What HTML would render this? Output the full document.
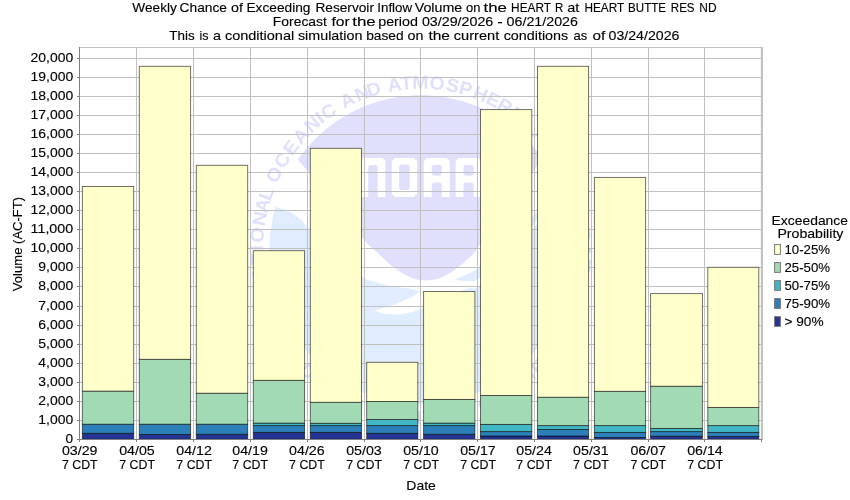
<!DOCTYPE html>
<html><head><meta charset="utf-8"><title>Chart</title>
<style>html,body{margin:0;padding:0;background:#fff;}svg{display:block;will-change:transform;}text{font-family:"Liberation Sans",sans-serif;fill:#000;stroke:#000;stroke-width:0.12px;}</style>
</head><body>
<svg width="850" height="500" viewBox="0 0 850 500">
<rect x="0" y="0" width="850" height="500" fill="#ffffff"/>
<text x="132.3" y="11.9" font-size="12.4" textLength="44.6" lengthAdjust="spacingAndGlyphs">Weekly</text>
<text x="179.6" y="11.9" font-size="12.4" textLength="47.4" lengthAdjust="spacingAndGlyphs">Chance</text>
<text x="231.1" y="11.9" font-size="12.4" textLength="11.9" lengthAdjust="spacingAndGlyphs">of</text>
<text x="246.4" y="11.9" font-size="12.4" textLength="64.1" lengthAdjust="spacingAndGlyphs">Exceeding</text>
<text x="315.4" y="11.9" font-size="12.4" textLength="58.6" lengthAdjust="spacingAndGlyphs">Reservoir</text>
<text x="377.3" y="11.9" font-size="12.4" textLength="34.8" lengthAdjust="spacingAndGlyphs">Inflow</text>
<text x="414.7" y="11.9" font-size="12.4" textLength="47.6" lengthAdjust="spacingAndGlyphs">Volume</text>
<text x="466.0" y="11.9" font-size="12.4" textLength="14.4" lengthAdjust="spacingAndGlyphs">on</text>
<text x="483.6" y="11.9" font-size="12.4" textLength="23.4" lengthAdjust="spacingAndGlyphs">the</text>
<text x="511.1" y="11.9" font-size="12.4" textLength="39.9" lengthAdjust="spacingAndGlyphs">HEART</text>
<text x="555.1" y="11.9" font-size="12.4" textLength="8.3" lengthAdjust="spacingAndGlyphs">R</text>
<text x="567.3" y="11.9" font-size="12.4" textLength="12.1" lengthAdjust="spacingAndGlyphs">at</text>
<text x="584.4" y="11.9" font-size="12.4" textLength="39.8" lengthAdjust="spacingAndGlyphs">HEART</text>
<text x="628.1" y="11.9" font-size="12.4" textLength="38.0" lengthAdjust="spacingAndGlyphs">BUTTE</text>
<text x="670.8" y="11.9" font-size="12.4" textLength="23.8" lengthAdjust="spacingAndGlyphs">RES</text>
<text x="699.3" y="11.9" font-size="12.4" textLength="17.3" lengthAdjust="spacingAndGlyphs">ND</text>
<text x="272.8" y="25.8" font-size="12.4" textLength="54.1" lengthAdjust="spacingAndGlyphs">Forecast</text>
<text x="331.5" y="25.8" font-size="12.4" textLength="18.3" lengthAdjust="spacingAndGlyphs">for</text>
<text x="352.2" y="25.8" font-size="12.4" textLength="23.6" lengthAdjust="spacingAndGlyphs">the</text>
<text x="378.2" y="25.8" font-size="12.4" textLength="39.8" lengthAdjust="spacingAndGlyphs">period</text>
<text x="421.9" y="25.8" font-size="12.4" textLength="71.4" lengthAdjust="spacingAndGlyphs">03/29/2026</text>
<text x="497.2" y="25.8" font-size="12.4" textLength="5.5" lengthAdjust="spacingAndGlyphs">-</text>
<text x="506.6" y="25.8" font-size="12.4" textLength="71.4" lengthAdjust="spacingAndGlyphs">06/21/2026</text>
<text x="169.3" y="39.6" font-size="12.4" textLength="25.4" lengthAdjust="spacingAndGlyphs">This</text>
<text x="199.4" y="39.6" font-size="12.4" textLength="9.0" lengthAdjust="spacingAndGlyphs">is</text>
<text x="213.1" y="39.6" font-size="12.4" textLength="8.0" lengthAdjust="spacingAndGlyphs">a</text>
<text x="224.9" y="39.6" font-size="12.4" textLength="69.3" lengthAdjust="spacingAndGlyphs">conditional</text>
<text x="297.9" y="39.6" font-size="12.4" textLength="64.5" lengthAdjust="spacingAndGlyphs">simulation</text>
<text x="366.2" y="39.6" font-size="12.4" textLength="37.5" lengthAdjust="spacingAndGlyphs">based</text>
<text x="407.5" y="39.6" font-size="12.4" textLength="15.9" lengthAdjust="spacingAndGlyphs">on</text>
<text x="428.4" y="39.6" font-size="12.4" textLength="21.6" lengthAdjust="spacingAndGlyphs">the</text>
<text x="453.8" y="39.6" font-size="12.4" textLength="45.5" lengthAdjust="spacingAndGlyphs">current</text>
<text x="503.7" y="39.6" font-size="12.4" textLength="64.5" lengthAdjust="spacingAndGlyphs">conditions</text>
<text x="573.6" y="39.6" font-size="12.4" textLength="13.7" lengthAdjust="spacingAndGlyphs">as</text>
<text x="592.6" y="39.6" font-size="12.4" textLength="12.8" lengthAdjust="spacingAndGlyphs">of</text>
<text x="608.5" y="39.6" font-size="12.4" textLength="70.9" lengthAdjust="spacingAndGlyphs">03/24/2026</text>
<g id="logo">
<defs><clipPath id="disc"><ellipse cx="420.7" cy="249.7" rx="151.3" ry="154.5"/></clipPath><clipPath id="disc2"><ellipse cx="420.7" cy="249.7" rx="152.5" ry="155.7"/></clipPath>
</defs>
<ellipse cx="420.7" cy="249.7" rx="151.3" ry="154.5" fill="#e0ecff"/>
<g clip-path="url(#disc)">
<path d="M292 153 C293.0 154.2 291.7 152.7 298.0 160.0 C304.3 167.3 319.2 183.8 330.0 197.0 C340.8 210.2 355.5 230.1 363.0 239.0 C370.5 247.9 369.8 245.7 375.0 250.5 C380.2 255.3 388.2 263.2 394.0 267.6 C399.8 272.1 404.7 275.1 410.0 277.2 C415.3 279.3 420.7 280.4 426.0 280.4 C431.3 280.4 436.7 279.3 442.0 277.2 C447.3 275.1 452.7 271.6 458.0 267.6 C463.3 263.6 470.5 256.8 474.0 253.2 C477.5 249.6 473.8 253.2 479.0 246.0 C484.2 238.8 495.8 222.7 505.0 210.0 C514.2 197.3 526.2 180.7 534.0 170.0 C541.8 159.3 549.0 150.0 552.0 146.0 L600 140 L600 60 L240 60 L240 150 Z" fill="#e0e0fc"/>
</g>
<g clip-path="url(#disc2)">
<path d="M292 153 C293.0 154.2 291.7 152.7 298.0 160.0 C304.3 167.3 319.2 183.8 330.0 197.0 C340.8 210.2 355.5 230.1 363.0 239.0 C370.5 247.9 369.8 245.7 375.0 250.5 C380.2 255.3 388.2 263.2 394.0 267.6 C399.8 272.1 404.7 275.1 410.0 277.2 C415.3 279.3 420.7 280.4 426.0 280.4 C431.3 280.4 436.7 279.3 442.0 277.2 C447.3 275.1 452.7 271.6 458.0 267.6 C463.3 263.6 470.5 256.8 474.0 253.2 C477.5 249.6 473.8 253.2 479.0 246.0 C484.2 238.8 495.8 222.7 505.0 210.0 C514.2 197.3 526.2 180.7 534.0 170.0 C541.8 159.3 549.0 150.0 552.0 146.0 L566 184 C560.7 189.2 544.2 205.2 534.0 215.0 C523.8 224.8 514.5 234.1 505.0 243.0 C495.5 251.9 483.7 263.1 477.0 268.4 C470.3 273.7 468.8 273.0 465.0 275.0 C461.2 277.0 458.7 277.9 454.0 280.4 C449.3 282.9 442.5 288.2 437.0 290.0 C431.5 291.8 425.5 291.3 421.0 291.0 C416.5 290.7 414.5 289.1 410.0 288.4 C405.5 287.7 399.3 287.7 394.0 286.8 C388.7 285.9 383.3 284.5 378.0 282.8 C372.7 281.1 369.2 281.5 362.0 276.4 C354.8 271.3 344.0 260.1 335.0 252.0 C326.0 243.9 313.7 233.2 308.0 227.8 C302.3 222.4 304.0 222.2 300.7 219.4 C297.4 216.6 292.2 213.1 288.0 211.0 C283.8 208.9 278.7 207.8 275.4 206.8 C272.1 205.8 269.2 205.3 268.0 205.0 Z" fill="#ffffff"/>
<path d="M374 310.8 C377.3 309.7 388.0 306.5 394.0 304.4 C400.0 302.3 405.5 300.1 410.0 298.0 C414.5 295.9 416.5 293.5 421.0 291.5 C425.5 289.5 431.5 287.9 437.0 286.0 C442.5 284.1 448.5 281.2 454.0 280.4 C459.5 279.6 466.0 281.2 470.0 281.0 C474.0 280.8 472.2 283.3 478.0 279.0 C483.8 274.7 495.7 264.2 505.0 255.0 C514.3 245.8 526.2 232.5 534.0 224.0 C541.8 215.5 549.0 207.3 552.0 204.0 C549.0 208.0 541.8 218.3 534.0 228.0 C526.2 237.7 514.3 252.2 505.0 262.0 C495.7 271.8 483.8 282.4 478.0 286.7 C472.2 291.0 472.8 287.3 470.0 288.0 C467.2 288.7 466.0 288.8 461.0 291.0 C456.0 293.2 446.8 298.0 440.0 301.0 C433.2 304.0 426.7 307.0 420.4 309.2 C414.1 311.4 407.7 313.2 402.0 314.0 C396.3 314.8 390.7 314.5 386.0 314.0 C381.3 313.5 376.0 311.3 374.0 310.8 Z" fill="#ffffff"/>
</g>
<path d="M360.6 196.9 V160.70000000000002 L363.40000000000003 157.9 H382.5 L385.3 160.70000000000002 V196.9 H377.7 V166.6 L376.2 165.1 H369.70000000000005 L368.20000000000005 166.6 V196.9 Z M395.0 157.9 H413.8 L417.0 161.1 V193.70000000000002 L413.8 196.9 H395.0 L391.8 193.70000000000002 V161.1 Z M400.90000000000003 164.4 L399.1 166.20000000000002 V188.29999999999998 L400.90000000000003 190.1 H407.9 L409.7 188.29999999999998 V166.20000000000002 L407.9 164.4 Z M423.8 196.9 V160.9 L426.8 157.9 H446.7 L449.7 160.9 V196.9 H441.8 V184.2 L440.2 182.6 H433.3 L431.7 184.2 V196.9 Z M433.3 164.8 L431.7 166.4 V174.1 L433.3 175.7 H440.2 L441.8 174.1 V166.4 L440.2 164.8 Z M455.6 196.9 V160.9 L458.6 157.9 H478.5 L481.5 160.9 V196.9 H473.6 V184.2 L472.0 182.6 H465.1 L463.5 184.2 V196.9 Z M465.1 164.8 L463.5 166.4 V174.1 L465.1 175.7 H472.0 L473.6 174.1 V166.4 L472.0 164.8 Z" fill="#ffffff" fill-rule="evenodd"/>
<g transform="translate(420.7 249.7) scale(1 1.0212)" font-size="18.5" font-weight="bold" text-anchor="middle" style="fill:#e0e0fc">
<text transform="rotate(-103.73) translate(0 -157.6) scale(1.05 1)" style="fill:#e0e0fc;stroke:none">N</text>
<text transform="rotate(-98.21) translate(0 -157.6) scale(1.05 1)" style="fill:#e0e0fc;stroke:none">A</text>
<text transform="rotate(-93.08) translate(0 -157.6) scale(1.05 1)" style="fill:#e0e0fc;stroke:none">T</text>
<text transform="rotate(-89.43) translate(0 -157.6) scale(1.05 1)" style="fill:#e0e0fc;stroke:none">I</text>
<text transform="rotate(-84.96) translate(0 -157.6) scale(1.05 1)" style="fill:#e0e0fc;stroke:none">O</text>
<text transform="rotate(-79.25) translate(0 -157.6) scale(1.05 1)" style="fill:#e0e0fc;stroke:none">N</text>
<text transform="rotate(-74.67) translate(0 -157.6) scale(1.05 1)" style="fill:#e0e0fc;stroke:none">A</text>
<text transform="rotate(-70.49) translate(0 -157.6) scale(1.05 1)" style="fill:#e0e0fc;stroke:none">L</text>
<text transform="rotate(-63.40) translate(0 -157.6) scale(1.05 1)" style="fill:#e0e0fc;stroke:none">O</text>
<text transform="rotate(-57.69) translate(0 -157.6) scale(1.05 1)" style="fill:#e0e0fc;stroke:none">C</text>
<text transform="rotate(-52.35) translate(0 -157.6) scale(1.05 1)" style="fill:#e0e0fc;stroke:none">E</text>
<text transform="rotate(-47.01) translate(0 -157.6) scale(1.05 1)" style="fill:#e0e0fc;stroke:none">A</text>
<text transform="rotate(-41.48) translate(0 -157.6) scale(1.05 1)" style="fill:#e0e0fc;stroke:none">N</text>
<text transform="rotate(-37.99) translate(0 -157.6) scale(1.05 1)" style="fill:#e0e0fc;stroke:none">I</text>
<text transform="rotate(-34.28) translate(0 -157.6) scale(1.05 1)" style="fill:#e0e0fc;stroke:none">C</text>
<text transform="rotate(-26.58) translate(0 -157.6) scale(1.05 1)" style="fill:#e0e0fc;stroke:none">A</text>
<text transform="rotate(-20.98) translate(0 -157.6) scale(1.05 1)" style="fill:#e0e0fc;stroke:none">N</text>
<text transform="rotate(-16.72) translate(0 -157.6) scale(1.05 1)" style="fill:#e0e0fc;stroke:none">D</text>
<text transform="rotate(-9.27) translate(0 -157.6) scale(1.05 1)" style="fill:#e0e0fc;stroke:none">A</text>
<text transform="rotate(-5.02) translate(0 -157.6) scale(1.05 1)" style="fill:#e0e0fc;stroke:none">T</text>
<text transform="rotate(-0.11) translate(0 -157.6) scale(1.05 1)" style="fill:#e0e0fc;stroke:none">M</text>
<text transform="rotate(5.74) translate(0 -157.6) scale(1.05 1)" style="fill:#e0e0fc;stroke:none">O</text>
<text transform="rotate(11.34) translate(0 -157.6) scale(1.05 1)" style="fill:#e0e0fc;stroke:none">S</text>
<text transform="rotate(15.92) translate(0 -157.6) scale(1.05 1)" style="fill:#e0e0fc;stroke:none">P</text>
<text transform="rotate(21.45) translate(0 -157.6) scale(1.05 1)" style="fill:#e0e0fc;stroke:none">H</text>
<text transform="rotate(26.28) translate(0 -157.6) scale(1.05 1)" style="fill:#e0e0fc;stroke:none">E</text>
<text transform="rotate(30.97) translate(0 -157.6) scale(1.05 1)" style="fill:#e0e0fc;stroke:none">R</text>
<text transform="rotate(34.99) translate(0 -157.6) scale(1.05 1)" style="fill:#e0e0fc;stroke:none">I</text>
<text transform="rotate(39.01) translate(0 -157.6) scale(1.05 1)" style="fill:#e0e0fc;stroke:none">C</text>
<text transform="rotate(47.04) translate(0 -157.6) scale(1.05 1)" style="fill:#e0e0fc;stroke:none">A</text>
<text transform="rotate(52.55) translate(0 -157.6) scale(1.05 1)" style="fill:#e0e0fc;stroke:none">D</text>
<text transform="rotate(58.44) translate(0 -157.6) scale(1.05 1)" style="fill:#e0e0fc;stroke:none">M</text>
<text transform="rotate(62.83) translate(0 -157.6) scale(1.05 1)" style="fill:#e0e0fc;stroke:none">I</text>
<text transform="rotate(66.85) translate(0 -157.6) scale(1.05 1)" style="fill:#e0e0fc;stroke:none">N</text>
<text transform="rotate(70.86) translate(0 -157.6) scale(1.05 1)" style="fill:#e0e0fc;stroke:none">I</text>
<text transform="rotate(74.69) translate(0 -157.6) scale(1.05 1)" style="fill:#e0e0fc;stroke:none">S</text>
<text transform="rotate(79.65) translate(0 -157.6) scale(1.05 1)" style="fill:#e0e0fc;stroke:none">T</text>
<text transform="rotate(84.78) translate(0 -157.6) scale(1.05 1)" style="fill:#e0e0fc;stroke:none">R</text>
<text transform="rotate(90.29) translate(0 -157.6) scale(1.05 1)" style="fill:#e0e0fc;stroke:none">A</text>
<text transform="rotate(95.43) translate(0 -157.6) scale(1.05 1)" style="fill:#e0e0fc;stroke:none">T</text>
<text transform="rotate(99.08) translate(0 -157.6) scale(1.05 1)" style="fill:#e0e0fc;stroke:none">I</text>
<text transform="rotate(103.28) translate(0 -157.6) scale(1.05 1)" style="fill:#e0e0fc;stroke:none">O</text>
<text transform="rotate(108.98) translate(0 -157.6) scale(1.05 1)" style="fill:#e0e0fc;stroke:none">N</text>
<text transform="rotate(61.31) translate(0 170.6) scale(1.05 1)" style="fill:#e0e0fc;stroke:none">U</text>
<text transform="rotate(57.39) translate(0 170.6) scale(1.05 1)" style="fill:#e0e0fc;stroke:none">.</text>
<text transform="rotate(53.65) translate(0 170.6) scale(1.05 1)" style="fill:#e0e0fc;stroke:none">S</text>
<text transform="rotate(49.91) translate(0 170.6) scale(1.05 1)" style="fill:#e0e0fc;stroke:none">.</text>
<text transform="rotate(43.46) translate(0 170.6) scale(1.05 1)" style="fill:#e0e0fc;stroke:none">D</text>
<text transform="rotate(38.34) translate(0 170.6) scale(1.05 1)" style="fill:#e0e0fc;stroke:none">E</text>
<text transform="rotate(33.39) translate(0 170.6) scale(1.05 1)" style="fill:#e0e0fc;stroke:none">P</text>
<text transform="rotate(28.27) translate(0 170.6) scale(1.05 1)" style="fill:#e0e0fc;stroke:none">A</text>
<text transform="rotate(22.98) translate(0 170.6) scale(1.05 1)" style="fill:#e0e0fc;stroke:none">R</text>
<text transform="rotate(18.03) translate(0 170.6) scale(1.05 1)" style="fill:#e0e0fc;stroke:none">T</text>
<text transform="rotate(12.74) translate(0 170.6) scale(1.05 1)" style="fill:#e0e0fc;stroke:none">M</text>
<text transform="rotate(7.28) translate(0 170.6) scale(1.05 1)" style="fill:#e0e0fc;stroke:none">E</text>
<text transform="rotate(2.15) translate(0 170.6) scale(1.05 1)" style="fill:#e0e0fc;stroke:none">N</text>
<text transform="rotate(-2.79) translate(0 170.6) scale(1.05 1)" style="fill:#e0e0fc;stroke:none">T</text>
<text transform="rotate(-10.45) translate(0 170.6) scale(1.05 1)" style="fill:#e0e0fc;stroke:none">O</text>
<text transform="rotate(-15.57) translate(0 170.6) scale(1.05 1)" style="fill:#e0e0fc;stroke:none">F</text>
<text transform="rotate(-23.05) translate(0 170.6) scale(1.05 1)" style="fill:#e0e0fc;stroke:none">C</text>
<text transform="rotate(-28.51) translate(0 170.6) scale(1.05 1)" style="fill:#e0e0fc;stroke:none">O</text>
<text transform="rotate(-34.33) translate(0 170.6) scale(1.05 1)" style="fill:#e0e0fc;stroke:none">M</text>
<text transform="rotate(-40.31) translate(0 170.6) scale(1.05 1)" style="fill:#e0e0fc;stroke:none">M</text>
<text transform="rotate(-45.77) translate(0 170.6) scale(1.05 1)" style="fill:#e0e0fc;stroke:none">E</text>
<text transform="rotate(-50.89) translate(0 170.6) scale(1.05 1)" style="fill:#e0e0fc;stroke:none">R</text>
<text transform="rotate(-56.19) translate(0 170.6) scale(1.05 1)" style="fill:#e0e0fc;stroke:none">C</text>
<text transform="rotate(-61.31) translate(0 170.6) scale(1.05 1)" style="fill:#e0e0fc;stroke:none">E</text>
</g>
</g>
<g stroke="#c0c0c0" stroke-width="1" fill="none" shape-rendering="crispEdges">
<line x1="79" y1="420.5" x2="762" y2="420.5"/>
<line x1="79" y1="401.5" x2="762" y2="401.5"/>
<line x1="79" y1="382.5" x2="762" y2="382.5"/>
<line x1="79" y1="363.5" x2="762" y2="363.5"/>
<line x1="79" y1="344.5" x2="762" y2="344.5"/>
<line x1="79" y1="325.5" x2="762" y2="325.5"/>
<line x1="79" y1="306.5" x2="762" y2="306.5"/>
<line x1="79" y1="286.5" x2="762" y2="286.5"/>
<line x1="79" y1="267.5" x2="762" y2="267.5"/>
<line x1="79" y1="248.5" x2="762" y2="248.5"/>
<line x1="79" y1="229.5" x2="762" y2="229.5"/>
<line x1="79" y1="210.5" x2="762" y2="210.5"/>
<line x1="79" y1="191.5" x2="762" y2="191.5"/>
<line x1="79" y1="172.5" x2="762" y2="172.5"/>
<line x1="79" y1="153.5" x2="762" y2="153.5"/>
<line x1="79" y1="134.5" x2="762" y2="134.5"/>
<line x1="79" y1="115.5" x2="762" y2="115.5"/>
<line x1="79" y1="96.5" x2="762" y2="96.5"/>
<line x1="79" y1="77.5" x2="762" y2="77.5"/>
<line x1="79" y1="58.5" x2="762" y2="58.5"/>
<line x1="136.5" y1="47" x2="136.5" y2="439"/>
<line x1="193.5" y1="47" x2="193.5" y2="439"/>
<line x1="250.5" y1="47" x2="250.5" y2="439"/>
<line x1="307.5" y1="47" x2="307.5" y2="439"/>
<line x1="364.5" y1="47" x2="364.5" y2="439"/>
<line x1="420.5" y1="47" x2="420.5" y2="439"/>
<line x1="477.5" y1="47" x2="477.5" y2="439"/>
<line x1="534.5" y1="47" x2="534.5" y2="439"/>
<line x1="591.5" y1="47" x2="591.5" y2="439"/>
<line x1="648.5" y1="47" x2="648.5" y2="439"/>
<line x1="704.5" y1="47" x2="704.5" y2="439"/>
<line x1="79" y1="47.5" x2="763" y2="47.5"/>
</g>
<line x1="761.9" y1="47" x2="761.9" y2="440" stroke="#c0c0c0" stroke-width="2.1"/>
<g stroke="#000000" stroke-opacity="0.62" stroke-width="0.9">
<rect x="82.35" y="433.30" width="51.35" height="6.00" fill="#253494"/>
<rect x="82.35" y="424.20" width="51.35" height="9.10" fill="#2c7fb8"/>
<rect x="82.35" y="391.10" width="51.35" height="33.10" fill="#a1dab4"/>
<rect x="82.35" y="186.50" width="51.35" height="204.60" fill="#ffffcc"/>
<rect x="139.30" y="434.50" width="51.30" height="4.80" fill="#253494"/>
<rect x="139.30" y="424.20" width="51.30" height="10.30" fill="#2c7fb8"/>
<rect x="139.30" y="359.30" width="51.30" height="64.90" fill="#a1dab4"/>
<rect x="139.30" y="66.30" width="51.30" height="293.00" fill="#ffffcc"/>
<rect x="196.30" y="434.30" width="51.40" height="5.00" fill="#253494"/>
<rect x="196.30" y="424.20" width="51.40" height="10.10" fill="#2c7fb8"/>
<rect x="196.30" y="393.20" width="51.40" height="31.00" fill="#a1dab4"/>
<rect x="196.30" y="165.30" width="51.40" height="227.90" fill="#ffffcc"/>
<rect x="253.30" y="432.40" width="51.30" height="6.90" fill="#253494"/>
<rect x="253.30" y="425.60" width="51.30" height="6.80" fill="#2c7fb8"/>
<rect x="253.30" y="423.10" width="51.30" height="2.50" fill="#41b6c4"/>
<rect x="253.30" y="380.30" width="51.30" height="42.80" fill="#a1dab4"/>
<rect x="253.30" y="250.70" width="51.30" height="129.60" fill="#ffffcc"/>
<rect x="310.30" y="432.40" width="51.20" height="6.90" fill="#253494"/>
<rect x="310.30" y="425.60" width="51.20" height="6.80" fill="#2c7fb8"/>
<rect x="310.30" y="423.30" width="51.20" height="2.30" fill="#41b6c4"/>
<rect x="310.30" y="402.30" width="51.20" height="21.00" fill="#a1dab4"/>
<rect x="310.30" y="148.30" width="51.20" height="254.00" fill="#ffffcc"/>
<rect x="366.70" y="433.30" width="51.10" height="6.00" fill="#253494"/>
<rect x="366.70" y="425.60" width="51.10" height="7.70" fill="#2c7fb8"/>
<rect x="366.70" y="419.50" width="51.10" height="6.10" fill="#41b6c4"/>
<rect x="366.70" y="401.50" width="51.10" height="18.00" fill="#a1dab4"/>
<rect x="366.70" y="362.30" width="51.10" height="39.20" fill="#ffffcc"/>
<rect x="423.60" y="434.30" width="51.30" height="5.00" fill="#253494"/>
<rect x="423.60" y="425.60" width="51.30" height="8.70" fill="#2c7fb8"/>
<rect x="423.60" y="423.10" width="51.30" height="2.50" fill="#41b6c4"/>
<rect x="423.60" y="399.40" width="51.30" height="23.70" fill="#a1dab4"/>
<rect x="423.60" y="291.50" width="51.30" height="107.90" fill="#ffffcc"/>
<rect x="480.50" y="436.00" width="51.30" height="3.30" fill="#253494"/>
<rect x="480.50" y="431.60" width="51.30" height="4.40" fill="#2c7fb8"/>
<rect x="480.50" y="424.40" width="51.30" height="7.20" fill="#41b6c4"/>
<rect x="480.50" y="395.50" width="51.30" height="28.90" fill="#a1dab4"/>
<rect x="480.50" y="109.60" width="51.30" height="285.90" fill="#ffffcc"/>
<rect x="537.50" y="436.00" width="51.10" height="3.30" fill="#253494"/>
<rect x="537.50" y="429.50" width="51.10" height="6.50" fill="#2c7fb8"/>
<rect x="537.50" y="425.60" width="51.10" height="3.90" fill="#41b6c4"/>
<rect x="537.50" y="397.20" width="51.10" height="28.40" fill="#a1dab4"/>
<rect x="537.50" y="66.30" width="51.10" height="330.90" fill="#ffffcc"/>
<rect x="594.40" y="437.50" width="51.20" height="1.80" fill="#253494"/>
<rect x="594.40" y="432.40" width="51.20" height="5.10" fill="#2c7fb8"/>
<rect x="594.40" y="425.60" width="51.20" height="6.80" fill="#41b6c4"/>
<rect x="594.40" y="391.30" width="51.20" height="34.30" fill="#a1dab4"/>
<rect x="594.40" y="177.40" width="51.20" height="213.90" fill="#ffffcc"/>
<rect x="650.60" y="436.20" width="51.80" height="3.10" fill="#253494"/>
<rect x="650.60" y="431.60" width="51.80" height="4.60" fill="#2c7fb8"/>
<rect x="650.60" y="428.40" width="51.80" height="3.20" fill="#41b6c4"/>
<rect x="650.60" y="386.20" width="51.80" height="42.20" fill="#a1dab4"/>
<rect x="650.60" y="293.60" width="51.80" height="92.60" fill="#ffffcc"/>
<rect x="707.80" y="436.50" width="51.00" height="2.80" fill="#253494"/>
<rect x="707.80" y="432.40" width="51.00" height="4.10" fill="#2c7fb8"/>
<rect x="707.80" y="425.60" width="51.00" height="6.80" fill="#41b6c4"/>
<rect x="707.80" y="407.40" width="51.00" height="18.20" fill="#a1dab4"/>
<rect x="707.80" y="267.30" width="51.00" height="140.10" fill="#ffffcc"/>
</g>
<g stroke="#808080" stroke-width="1" fill="none">
<line x1="79.5" y1="47" x2="79.5" y2="440"/>
<line x1="79" y1="439.5" x2="762" y2="439.5"/>
<line x1="77" y1="439.5" x2="79" y2="439.5"/>
<line x1="77" y1="420.5" x2="79" y2="420.5"/>
<line x1="77" y1="401.5" x2="79" y2="401.5"/>
<line x1="77" y1="382.5" x2="79" y2="382.5"/>
<line x1="77" y1="363.5" x2="79" y2="363.5"/>
<line x1="77" y1="344.5" x2="79" y2="344.5"/>
<line x1="77" y1="325.5" x2="79" y2="325.5"/>
<line x1="77" y1="306.5" x2="79" y2="306.5"/>
<line x1="77" y1="286.5" x2="79" y2="286.5"/>
<line x1="77" y1="267.5" x2="79" y2="267.5"/>
<line x1="77" y1="248.5" x2="79" y2="248.5"/>
<line x1="77" y1="229.5" x2="79" y2="229.5"/>
<line x1="77" y1="210.5" x2="79" y2="210.5"/>
<line x1="77" y1="191.5" x2="79" y2="191.5"/>
<line x1="77" y1="172.5" x2="79" y2="172.5"/>
<line x1="77" y1="153.5" x2="79" y2="153.5"/>
<line x1="77" y1="134.5" x2="79" y2="134.5"/>
<line x1="77" y1="115.5" x2="79" y2="115.5"/>
<line x1="77" y1="96.5" x2="79" y2="96.5"/>
<line x1="77" y1="77.5" x2="79" y2="77.5"/>
<line x1="77" y1="58.5" x2="79" y2="58.5"/>
<line x1="79.5" y1="440" x2="79.5" y2="442"/>
<line x1="136.5" y1="440" x2="136.5" y2="442"/>
<line x1="193.5" y1="440" x2="193.5" y2="442"/>
<line x1="250.5" y1="440" x2="250.5" y2="442"/>
<line x1="307.5" y1="440" x2="307.5" y2="442"/>
<line x1="364.5" y1="440" x2="364.5" y2="442"/>
<line x1="420.5" y1="440" x2="420.5" y2="442"/>
<line x1="477.5" y1="440" x2="477.5" y2="442"/>
<line x1="534.5" y1="440" x2="534.5" y2="442"/>
<line x1="591.5" y1="440" x2="591.5" y2="442"/>
<line x1="648.5" y1="440" x2="648.5" y2="442"/>
<line x1="704.5" y1="440" x2="704.5" y2="442"/>
<line x1="761.5" y1="440" x2="761.5" y2="442"/>
</g>
<text x="73.2" y="443.20" font-size="12.4" text-anchor="end" textLength="7.6" lengthAdjust="spacingAndGlyphs">0</text>
<text x="73.2" y="424.20" font-size="12.4" text-anchor="end" textLength="34.9" lengthAdjust="spacingAndGlyphs">1,000</text>
<text x="73.2" y="405.20" font-size="12.4" text-anchor="end" textLength="34.9" lengthAdjust="spacingAndGlyphs">2,000</text>
<text x="73.2" y="386.20" font-size="12.4" text-anchor="end" textLength="34.9" lengthAdjust="spacingAndGlyphs">3,000</text>
<text x="73.2" y="367.20" font-size="12.4" text-anchor="end" textLength="34.9" lengthAdjust="spacingAndGlyphs">4,000</text>
<text x="73.2" y="348.20" font-size="12.4" text-anchor="end" textLength="34.9" lengthAdjust="spacingAndGlyphs">5,000</text>
<text x="73.2" y="329.20" font-size="12.4" text-anchor="end" textLength="34.9" lengthAdjust="spacingAndGlyphs">6,000</text>
<text x="73.2" y="310.20" font-size="12.4" text-anchor="end" textLength="34.9" lengthAdjust="spacingAndGlyphs">7,000</text>
<text x="73.2" y="290.20" font-size="12.4" text-anchor="end" textLength="34.9" lengthAdjust="spacingAndGlyphs">8,000</text>
<text x="73.2" y="271.20" font-size="12.4" text-anchor="end" textLength="34.9" lengthAdjust="spacingAndGlyphs">9,000</text>
<text x="73.2" y="252.20" font-size="12.4" text-anchor="end" textLength="42.6" lengthAdjust="spacingAndGlyphs">10,000</text>
<text x="73.2" y="233.20" font-size="12.4" text-anchor="end" textLength="42.6" lengthAdjust="spacingAndGlyphs">11,000</text>
<text x="73.2" y="214.20" font-size="12.4" text-anchor="end" textLength="42.6" lengthAdjust="spacingAndGlyphs">12,000</text>
<text x="73.2" y="195.20" font-size="12.4" text-anchor="end" textLength="42.6" lengthAdjust="spacingAndGlyphs">13,000</text>
<text x="73.2" y="176.20" font-size="12.4" text-anchor="end" textLength="42.6" lengthAdjust="spacingAndGlyphs">14,000</text>
<text x="73.2" y="157.20" font-size="12.4" text-anchor="end" textLength="42.6" lengthAdjust="spacingAndGlyphs">15,000</text>
<text x="73.2" y="138.20" font-size="12.4" text-anchor="end" textLength="42.6" lengthAdjust="spacingAndGlyphs">16,000</text>
<text x="73.2" y="119.20" font-size="12.4" text-anchor="end" textLength="42.6" lengthAdjust="spacingAndGlyphs">17,000</text>
<text x="73.2" y="100.20" font-size="12.4" text-anchor="end" textLength="42.6" lengthAdjust="spacingAndGlyphs">18,000</text>
<text x="73.2" y="81.20" font-size="12.4" text-anchor="end" textLength="42.6" lengthAdjust="spacingAndGlyphs">19,000</text>
<text x="73.2" y="62.20" font-size="12.4" text-anchor="end" textLength="42.6" lengthAdjust="spacingAndGlyphs">20,000</text>
<text x="61.90" y="455.3" font-size="12.4" text-anchor="start" textLength="35.6" lengthAdjust="spacingAndGlyphs">03/29</text>
<text x="61.90" y="468.7" font-size="12.4" text-anchor="start" textLength="35.8" lengthAdjust="spacingAndGlyphs">7 CDT</text>
<text x="119.20" y="455.3" font-size="12.4" text-anchor="start" textLength="35.6" lengthAdjust="spacingAndGlyphs">04/05</text>
<text x="119.20" y="468.7" font-size="12.4" text-anchor="start" textLength="35.8" lengthAdjust="spacingAndGlyphs">7 CDT</text>
<text x="176.30" y="455.3" font-size="12.4" text-anchor="start" textLength="35.6" lengthAdjust="spacingAndGlyphs">04/12</text>
<text x="176.30" y="468.7" font-size="12.4" text-anchor="start" textLength="35.8" lengthAdjust="spacingAndGlyphs">7 CDT</text>
<text x="232.30" y="455.3" font-size="12.4" text-anchor="start" textLength="35.6" lengthAdjust="spacingAndGlyphs">04/19</text>
<text x="232.30" y="468.7" font-size="12.4" text-anchor="start" textLength="35.8" lengthAdjust="spacingAndGlyphs">7 CDT</text>
<text x="289.10" y="455.3" font-size="12.4" text-anchor="start" textLength="35.6" lengthAdjust="spacingAndGlyphs">04/26</text>
<text x="289.10" y="468.7" font-size="12.4" text-anchor="start" textLength="35.8" lengthAdjust="spacingAndGlyphs">7 CDT</text>
<text x="346.20" y="455.3" font-size="12.4" text-anchor="start" textLength="35.6" lengthAdjust="spacingAndGlyphs">05/03</text>
<text x="346.20" y="468.7" font-size="12.4" text-anchor="start" textLength="35.8" lengthAdjust="spacingAndGlyphs">7 CDT</text>
<text x="403.20" y="455.3" font-size="12.4" text-anchor="start" textLength="35.6" lengthAdjust="spacingAndGlyphs">05/10</text>
<text x="403.20" y="468.7" font-size="12.4" text-anchor="start" textLength="35.8" lengthAdjust="spacingAndGlyphs">7 CDT</text>
<text x="460.20" y="455.3" font-size="12.4" text-anchor="start" textLength="35.6" lengthAdjust="spacingAndGlyphs">05/17</text>
<text x="460.20" y="468.7" font-size="12.4" text-anchor="start" textLength="35.8" lengthAdjust="spacingAndGlyphs">7 CDT</text>
<text x="516.30" y="455.3" font-size="12.4" text-anchor="start" textLength="35.6" lengthAdjust="spacingAndGlyphs">05/24</text>
<text x="516.30" y="468.7" font-size="12.4" text-anchor="start" textLength="35.8" lengthAdjust="spacingAndGlyphs">7 CDT</text>
<text x="573.10" y="455.3" font-size="12.4" text-anchor="start" textLength="35.6" lengthAdjust="spacingAndGlyphs">05/31</text>
<text x="573.10" y="468.7" font-size="12.4" text-anchor="start" textLength="35.8" lengthAdjust="spacingAndGlyphs">7 CDT</text>
<text x="630.40" y="455.3" font-size="12.4" text-anchor="start" textLength="35.6" lengthAdjust="spacingAndGlyphs">06/07</text>
<text x="630.40" y="468.7" font-size="12.4" text-anchor="start" textLength="35.8" lengthAdjust="spacingAndGlyphs">7 CDT</text>
<text x="687.20" y="455.3" font-size="12.4" text-anchor="start" textLength="35.6" lengthAdjust="spacingAndGlyphs">06/14</text>
<text x="687.20" y="468.7" font-size="12.4" text-anchor="start" textLength="35.8" lengthAdjust="spacingAndGlyphs">7 CDT</text>
<text x="421.1" y="489.8" font-size="12.4" text-anchor="middle" textLength="29.6" lengthAdjust="spacingAndGlyphs">Date</text>
<text transform="translate(21.6 244) rotate(-90)" font-size="12.4" text-anchor="middle" textLength="94.3" lengthAdjust="spacingAndGlyphs">Volume (AC-FT)</text>
<text x="809.8" y="224.5" font-size="12.4" text-anchor="middle" textLength="76.4" lengthAdjust="spacingAndGlyphs">Exceedance</text>
<text x="810.4" y="238.3" font-size="12.4" text-anchor="middle" textLength="66.0" lengthAdjust="spacingAndGlyphs">Probability</text>
<rect x="774.6" y="244.6" width="5.8" height="9.8" fill="#ffffcc" stroke="#787878" stroke-width="1"/>
<text x="784.5" y="254.0" font-size="12.4" text-anchor="start" textLength="45.6" lengthAdjust="spacingAndGlyphs">10-25%</text>
<rect x="774.6" y="262.6" width="5.8" height="9.8" fill="#a1dab4" stroke="#787878" stroke-width="1"/>
<text x="784.5" y="272.0" font-size="12.4" text-anchor="start" textLength="45.6" lengthAdjust="spacingAndGlyphs">25-50%</text>
<rect x="774.6" y="280.6" width="5.8" height="9.8" fill="#41b6c4" stroke="#787878" stroke-width="1"/>
<text x="784.5" y="290.0" font-size="12.4" text-anchor="start" textLength="45.6" lengthAdjust="spacingAndGlyphs">50-75%</text>
<rect x="774.6" y="298.6" width="5.8" height="9.8" fill="#2c7fb8" stroke="#787878" stroke-width="1"/>
<text x="784.5" y="308.0" font-size="12.4" text-anchor="start" textLength="45.6" lengthAdjust="spacingAndGlyphs">75-90%</text>
<rect x="774.6" y="316.6" width="5.8" height="9.8" fill="#253494" stroke="#787878" stroke-width="1"/>
<text x="784.5" y="326.0" font-size="12.4" text-anchor="start" textLength="39.0" lengthAdjust="spacingAndGlyphs">&gt; 90%</text>
</svg>
</body></html>
